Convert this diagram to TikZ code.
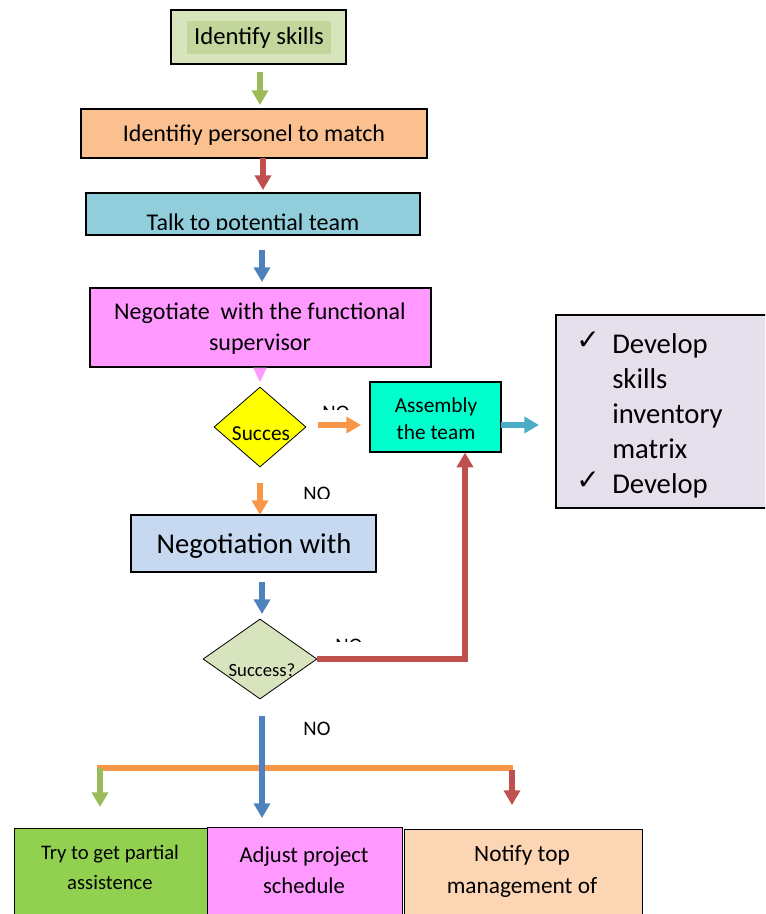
\documentclass[tikz,border=0pt]{standalone}
\usepackage{fontspec}
\setmainfont{Carlito}
\newfontfamily\symfont{DejaVu Sans}
\usetikzlibrary{arrows.meta,shapes.geometric}
\definecolor{skillouter}{HTML}{D8E4BC}
\definecolor{skillinner}{HTML}{C3D69B}
\definecolor{orangebox}{HTML}{FAC090}
\definecolor{bluebox}{HTML}{92CDDC}
\definecolor{magbox}{HTML}{FF99FF}
\definecolor{yellowdia}{HTML}{FFFF00}
\definecolor{aquabox}{HTML}{00FFCC}
\definecolor{lavbox}{HTML}{E6E0EC}
\definecolor{ltbluebox}{HTML}{C6D9F1}
\definecolor{greendia}{HTML}{D7E4BD}
\definecolor{greenbox}{HTML}{92D050}
\definecolor{peachbox}{HTML}{FCD5B5}
\definecolor{agreen}{HTML}{9BBB59}
\definecolor{ared}{HTML}{C0504D}
\definecolor{ablue}{HTML}{4F81BD}
\definecolor{aorange}{HTML}{F79646}
\definecolor{ateal}{HTML}{4BACC6}
\begin{document}
\begin{tikzpicture}[x=0.75pt,y=-0.75pt,
  box/.style={draw=black, line width=0.9pt, inner sep=0pt},
  dia/.style={draw=black, line width=0.6pt, diamond, inner sep=0pt, aspect=1},
  arr/.style={line width=4.9pt, -{Triangle[width=12pt,length=11pt]}},
  thickline/.style={line width=3.8pt},
  txt/.style={inner sep=0pt, text=black, align=center}]
\useasboundingbox (0,0) rectangle (765,914);
\clip (0,0) rectangle (765,914);

% Identify skills
\node[box, fill=skillouter, minimum width={175*0.75pt}, minimum height={54*0.75pt}] (skills) at (258.5,37) {};
\node[fill=skillinner, inner sep=0pt, minimum width={144*0.75pt}, minimum height={33*0.75pt}, font=\fontsize{18.5pt}{22pt}\selectfont] (skillstxt) at (259,37.5) {Identify skills};

% Identify personel
\node[box, fill=orangebox, minimum width={346*0.75pt}, minimum height={49*0.75pt}] (pers) at (254,133.5) {};
\node[txt, font=\fontsize{18pt}{22pt}\selectfont] (perstxt) at (254,135) {Identifiy personel to match};

% Talk to potential team
\node[box, fill=bluebox, minimum width={334*0.75pt}, minimum height={42*0.75pt}] (talk) at (253,214) {};
\begin{scope}
  \clip (80,190) rectangle (430,229);
  \node[txt, anchor=base, font=\fontsize{18pt}{22pt}\selectfont] (talktxt) at (253,230) {Talk to potential team};
\end{scope}

% Negotiate
\node[box, fill=magbox, minimum width={341*0.75pt}, minimum height={79*0.75pt}] (nego) at (260.5,327.5) {};
\node[txt, font=\fontsize{18pt}{23pt}\selectfont] (negotxt) at (260,328.5) {Negotiate\ \ with the functional\\supervisor};
\fill[magbox] (253,367.5) -- (267,367.5) -- (260,382) -- cycle;

% Succes diamond
\node[dia, fill=yellowdia, minimum width={92*0.75pt}, minimum height={80*0.75pt}, aspect=1.15] (succ1) at (260,427) {};
\node[txt, font=\fontsize{16pt}{19pt}\selectfont] (succ1txt) at (261,434) {Succes};

% Assembly
\node[box, fill=aquabox, minimum width={131*0.75pt}, minimum height={70*0.75pt}] (asm) at (435.5,417) {};
\node[txt, font=\fontsize{16pt}{20.5pt}\selectfont] (asmtxt) at (436,418.5) {Assembly\\the team};

% right list box
\node[box, fill=lavbox, minimum width={230*0.75pt}, minimum height={193*0.75pt}] (list) at (671,411.5) {};
\node[txt, anchor=base west, font=\symfont\fontsize{21pt}{24pt}\selectfont] (ck1) at (576,349) {✓};
\node[txt, anchor=base west, font=\symfont\fontsize{21pt}{24pt}\selectfont] (ck2) at (576,489) {✓};
\node[txt, anchor=base west, font=\fontsize{21.5pt}{25pt}\selectfont] (l1) at (612,353) {Develop};
\node[txt, anchor=base west, font=\fontsize{21.5pt}{25pt}\selectfont] (l2) at (612,388) {skills};
\node[txt, anchor=base west, font=\fontsize{21.5pt}{25pt}\selectfont] (l3) at (612,423) {inventory};
\node[txt, anchor=base west, font=\fontsize{21.5pt}{25pt}\selectfont] (l4) at (612,458) {matrix};
\node[txt, anchor=base west, font=\fontsize{21.5pt}{25pt}\selectfont] (l5) at (612,493) {Develop};

% Negotiation with
\node[box, fill=ltbluebox, minimum width={245*0.75pt}, minimum height={57*0.75pt}] (negw) at (253.5,543.5) {};
\node[txt, font=\fontsize{21.5pt}{25pt}\selectfont] (negwtxt) at (254,546) {Negotiation with};

% Success? diamond
\node[dia, fill=greendia, minimum width={114*0.75pt}, minimum height={80*0.75pt}, aspect=1.425] (succ2) at (260,659) {};
\node[txt, font=\fontsize{14pt}{17pt}\selectfont] (succ2txt) at (262,670) {Success?};

% NO labels (clipped)
\begin{scope}
  \clip (300,398) rectangle (360,409);
  \node[txt, anchor=base, font=\fontsize{15.5pt}{18pt}\selectfont] (no1) at (336,419) {NO};
\end{scope}
\begin{scope}
  \clip (290,480) rectangle (345,498);
  \node[txt, anchor=base, font=\fontsize{15.5pt}{18pt}\selectfont] (no2) at (317,500) {NO};
\end{scope}
\begin{scope}
  \clip (320,630) rectangle (380,641.5);
  \node[txt, anchor=base, font=\fontsize{15.5pt}{18pt}\selectfont] (no3) at (349,652) {NO};
\end{scope}
\node[txt, font=\fontsize{15.5pt}{18pt}\selectfont] (no4) at (317,729) {NO};

% bottom boxes
\node[box, fill=greenbox, minimum width={193*0.75pt}, minimum height={100*0.75pt}, anchor=north west] (b1) at (14,828) {};
\node[box, fill=magbox, minimum width={195*0.75pt}, minimum height={100*0.75pt}, anchor=north west] (b2) at (207,827) {};
\node[box, fill=peachbox, minimum width={238*0.75pt}, minimum height={100*0.75pt}, anchor=north west] (b3) at (404,829) {};
\node[txt, font=\fontsize{15.5pt}{22pt}\selectfont] (b1txt) at (110,867.5) {Try to get partial\\assistence};
\node[txt, font=\fontsize{17pt}{23pt}\selectfont] (b2txt) at (304,870.5) {Adjust project\\schedule};
\node[txt, font=\fontsize{17.5pt}{24.5pt}\selectfont] (b3txt) at (522,871.5) {Notify top\\management of};

% connector coordinates
\coordinate (a1s) at (260,72);  \coordinate (a1e) at (260,105);
\coordinate (a2s) at (263,158); \coordinate (a2e) at (263,190);
\coordinate (a3s) at (262,250); \coordinate (a3e) at (262,282);
\coordinate (a4s) at (318,425); \coordinate (a4e) at (361,425);
\coordinate (a5s) at (501,425); \coordinate (a5e) at (539,425);
\coordinate (a6s) at (260,483); \coordinate (a6e) at (260,515);
\coordinate (a7s) at (262,582); \coordinate (a7e) at (262,614);
\coordinate (rc) at (465,659);
\coordinate (a8s) at (262,716); \coordinate (a8e) at (262,818);
\coordinate (hl) at (100,768);  \coordinate (hr) at (513,768);
\coordinate (a9e) at (100,807);
\coordinate (a10s) at (512,770); \coordinate (a10e) at (512,805);

\draw[arr, agreen] (a1s) -- (a1e);
\draw[arr, ared] (a2s) -- (a2e);
\draw[arr, ablue] (a3s) -- (a3e);
\draw[arr, aorange] (a4s) -- (a4e);
\draw[arr, ateal] (a5s) -- (a5e);
\draw[arr, aorange] (a6s) -- (a6e);
\draw[arr, ablue] (a7s) -- (a7e);
\draw[thickline, ared, -{Triangle[width=12pt,length=11pt]}] (succ2.east) -- (rc) -- (rc |- asm.south);
\draw[thickline, aorange] ([xshift=-2pt]hl) -- (hr);
\draw[arr, agreen] (hl) -- (a9e);
\draw[arr, ared] (a10s) -- (a10e);
\draw[arr, ablue] (a8s) -- (a8e);
\end{tikzpicture}
\end{document}
